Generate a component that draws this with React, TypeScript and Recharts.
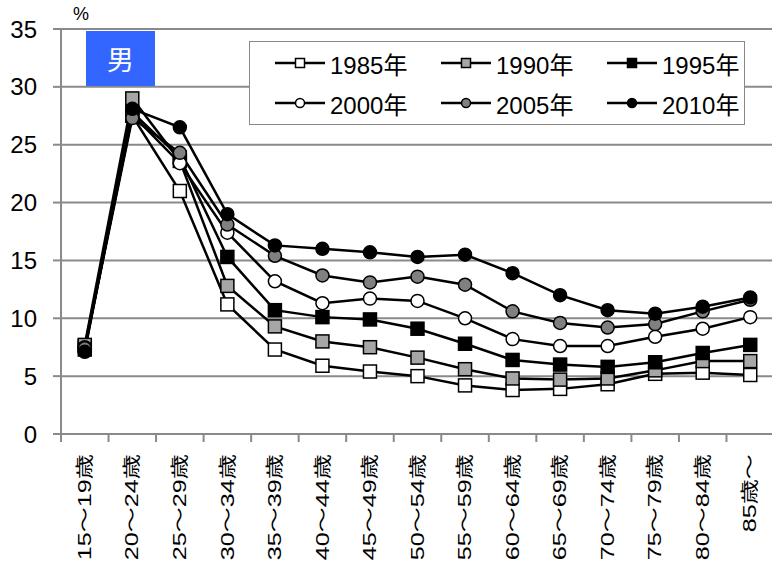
import { CartesianGrid, Legend, Line, LineChart, XAxis, YAxis } from "recharts";

const FONT = "'Liberation Sans', 'Noto Sans CJK JP', sans-serif";
const GRID = "#8a8a8a";

const ages = [
  "15〜19歳", "20〜24歳", "25〜29歳", "30〜34歳", "35〜39歳",
  "40〜44歳", "45〜49歳", "50〜54歳", "55〜59歳", "60〜64歳",
  "65〜69歳", "70〜74歳", "75〜79歳", "80〜84歳", "85歳〜",
];

const y1985 = [7.6, 27.5, 21.0, 11.2, 7.3, 5.9, 5.4, 5.0, 4.2, 3.8, 3.9, 4.3, 5.2, 5.3, 5.1];
const y1990 = [7.7, 29.0, 23.6, 12.8, 9.3, 8.0, 7.5, 6.6, 5.6, 4.8, 4.7, 4.8, 5.5, 6.3, 6.3];
const y1995 = [7.3, 27.8, 23.9, 15.3, 10.7, 10.1, 9.9, 9.1, 7.8, 6.4, 6.0, 5.8, 6.2, 7.0, 7.7];
const y2000 = [7.5, 27.6, 23.4, 17.4, 13.2, 11.3, 11.7, 11.5, 10.0, 8.2, 7.6, 7.6, 8.4, 9.1, 10.1];
const y2005 = [7.4, 27.3, 24.3, 18.1, 15.4, 13.7, 13.1, 13.6, 12.9, 10.6, 9.6, 9.2, 9.5, 10.6, 11.6];
const y2010 = [7.1, 28.1, 26.5, 19.0, 16.3, 16.0, 15.7, 15.3, 15.5, 13.9, 12.0, 10.7, 10.4, 11.0, 11.8];

const yTicks = [0, 5, 10, 15, 20, 25, 30, 35];

const SERIES = [
  { key: "y1985", name: "1985年", shape: "square", fill: "#ffffff", values: y1985 },
  { key: "y1990", name: "1990年", shape: "square", fill: "#a6a6a6", values: y1990 },
  { key: "y1995", name: "1995年", shape: "square", fill: "#000000", values: y1995 },
  { key: "y2000", name: "2000年", shape: "circle", fill: "#ffffff", values: y2000 },
  { key: "y2005", name: "2005年", shape: "circle", fill: "#808080", values: y2005 },
  { key: "y2010", name: "2010年", shape: "circle", fill: "#000000", values: y2010 },
];

const data = ages.map((age, i) => {
  const row: Record<string, string | number> = { age, x: i + 0.5 };
  SERIES.forEach((s) => (row[s.key] = s.values[i]));
  return row;
});

// tick marks sit on the category boundaries, labels go in the middle of each band
const boundaryTicks = ages.map((_, i) => i).concat(ages.length);

function marker(shape: string, fill: string, size: number, cx: number, cy: number, key?: string) {
  if (shape === "square") {
    return (
      <rect key={key} x={cx - size / 2} y={cy - size / 2} width={size} height={size}
        fill={fill} stroke="#000" strokeWidth={1.5} />
    );
  }
  return <circle key={key} cx={cx} cy={cy} r={size / 2} fill={fill} stroke="#000" strokeWidth={1.5} />;
}

function AgeTick({ x, y, width, payload }: any) {
  const label = ages[payload.value];
  if (!label) return null;
  const half = width / ages.length / 2;
  return (
    <text
      transform={`translate(${x + half},${y}) rotate(-90) scale(1.4,1)`}
      textAnchor="end"
      dominantBaseline="central"
      fontSize={18}
      fontFamily={FONT}
      fill="#000"
    >
      {label}
    </text>
  );
}

function LegendBox() {
  return (
    <div
      style={{
        boxSizing: "border-box",
        width: 496,
        height: 84,
        border: "1.5px solid #888",
        background: "#fff",
        padding: "1px 0 0 25px",
        display: "grid",
        gridTemplateColumns: "166px 166px 166px",
        gridAutoRows: "40px",
        fontFamily: FONT,
        fontSize: 24,
        color: "#000",
      }}
    >
      {SERIES.map((s) => (
        <div key={s.key} style={{ display: "flex", alignItems: "center" }}>
          <svg width={50} height={16}>
            <line x1={0} y1={8} x2={50} y2={8} stroke="#000" strokeWidth={2.5} />
            {marker(s.shape, s.fill, 9, 25, 8)}
          </svg>
          <span style={{ marginLeft: 5 }}>{s.name}</span>
        </div>
      ))}
    </div>
  );
}

export default function App() {
  return (
    <div style={{ position: "absolute", left: 0, top: 0, width: 772, height: 563, overflow: "hidden", background: "#fff" }}>
      <LineChart width={774} height={563} data={data} margin={{ top: 29, right: 0, left: 0, bottom: 0 }}>
        <CartesianGrid vertical={false} stroke={GRID} strokeWidth={2} />
        <XAxis
          type="number"
          dataKey="x"
          domain={[0, ages.length]}
          ticks={boundaryTicks}
          interval={0}
          height={129}
          tickSize={8}
          tickMargin={12}
          axisLine={{ stroke: GRID, strokeWidth: 2 }}
          tickLine={{ stroke: GRID, strokeWidth: 2 }}
          tick={<AgeTick />}
        />
        <YAxis
          width={61}
          domain={[0, 35]}
          ticks={yTicks}
          interval={0}
          tickSize={8}
          tickMargin={16}
          axisLine={{ stroke: GRID, strokeWidth: 2 }}
          tickLine={{ stroke: GRID, strokeWidth: 2 }}
          tick={{ fontSize: 24, fill: "#000", fontFamily: FONT }}
        />
        <Legend
          layout="horizontal"
          verticalAlign="middle"
          align="center"
          wrapperStyle={{ left: 249, top: 41, width: 496, height: 84 }}
          content={() => <LegendBox />}
        />
        {SERIES.map((s) => (
          <Line
            key={s.key}
            dataKey={s.key}
            name={s.name}
            stroke="#000"
            strokeWidth={2.5}
            isAnimationActive={false}
            dot={(p: any) => marker(s.shape, s.fill, 13, p.cx, p.cy, `${s.key}-${p.index}`)}
            activeDot={false}
          />
        ))}
      </LineChart>
      <div style={{ position: "absolute", left: 73, top: 4, fontFamily: FONT, fontSize: 18 }}>%</div>
      <div
        style={{
          position: "absolute",
          left: 86,
          top: 31,
          width: 69,
          height: 55,
          background: "#3366ff",
          color: "#fff",
          fontFamily: FONT,
          fontSize: 27,
          display: "flex",
          alignItems: "center",
          justifyContent: "center",
        }}
      >
        男
      </div>
    </div>
  );
}
